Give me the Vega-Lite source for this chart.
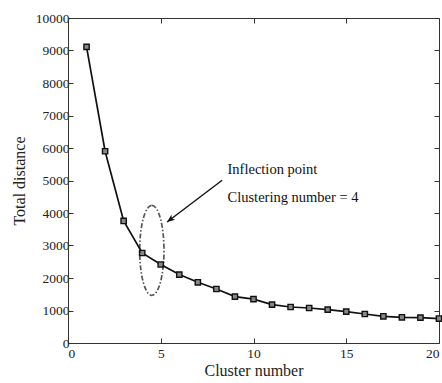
{
  "$schema": "https://vega.github.io/schema/vega-lite/v6.json",
  "width": 371,
  "height": 325,
  "autosize": "none",
  "padding": {"left": 68, "top": 18, "right": 3, "bottom": 40},
  "background": "white",
  "config": {
    "view": {"stroke": null},
    "font": "Liberation Serif",
    "axis": {
      "grid": false,
      "domainColor": "#333",
      "tickColor": "#333",
      "labelColor": "#222",
      "titleColor": "#222",
      "labelFont": "Liberation Serif",
      "titleFont": "Liberation Serif",
      "labelFontSize": 13.5,
      "titleFontSize": 16,
      "titleFontWeight": "normal",
      "tickSize": -5,
      "domainWidth": 1,
      "tickWidth": 1,
      "format": "d"
    }
  },
  "datasets": {
    "curve": [
      {"k": 1, "d": 9110}, {"k": 2, "d": 5900}, {"k": 3, "d": 3755}, {"k": 4, "d": 2770},
      {"k": 5, "d": 2415}, {"k": 6, "d": 2105}, {"k": 7, "d": 1868}, {"k": 8, "d": 1662},
      {"k": 9, "d": 1428}, {"k": 10, "d": 1350}, {"k": 11, "d": 1181}, {"k": 12, "d": 1108},
      {"k": 13, "d": 1077}, {"k": 14, "d": 1028}, {"k": 15, "d": 966}, {"k": 16, "d": 892},
      {"k": 17, "d": 822}, {"k": 18, "d": 791}, {"k": 19, "d": 781}, {"k": 20, "d": 752}
    ],
    "ellipse": [{"k": 4.52, "d": 2850}],
    "arrow": [{"k": 8.31, "d": 5006, "k2": 5.34, "d2": 3723}],
    "labels": [
      {"k": 8.6, "d": 5314, "t": "Inflection point"},
      {"k": 8.6, "d": 4452, "t": "Clustering number = 4"}
    ]
  },
  "resolve": {"axis": {"x": "independent", "y": "independent"}},
  "layer": [
    {
      "data": {"name": "curve"},
      "mark": {"type": "line", "color": "#111", "strokeWidth": 1.7},
      "encoding": {
        "x": {"field": "k", "type": "quantitative",
              "scale": {"domain": [0, 20], "nice": false},
              "axis": {"values": [0, 5, 10, 15, 20], "format": "d", "title": "Cluster number", "labelPadding": 8, "titlePadding": 3}},
        "y": {"field": "d", "type": "quantitative",
              "scale": {"domain": [0, 10000], "nice": false},
              "axis": {"values": [0, 1000, 2000, 3000, 4000, 5000, 6000, 7000, 8000, 9000, 10000], "format": "d", "title": "Total distance", "labelPadding": 4, "titlePadding": 8}}
      }
    },
    {
      "data": {"name": "curve"},
      "mark": {"type": "point", "shape": "square", "filled": true, "fill": "#888", "stroke": "#111", "strokeWidth": 1.4, "size": 28, "opacity": 1},
      "encoding": {
        "x": {"field": "k", "type": "quantitative", "axis": {"orient": "top", "values": [0, 5, 10, 15, 20], "labels": false, "title": null}},
        "y": {"field": "d", "type": "quantitative", "axis": {"orient": "right", "values": [0, 1000, 2000, 3000, 4000, 5000, 6000, 7000, 8000, 9000, 10000], "labels": false, "title": null}}
      }
    },
    {
      "data": {"name": "ellipse"},
      "mark": {"type": "point", "shape": "M0,-1 A0.27,1 0 1 1 0,1 A0.27,1 0 1 1 0,-1 Z", "filled": false, "stroke": "#111", "strokeWidth": 1.7, "strokeDash": [5, 2, 1.5, 2], "size": 8100},
      "encoding": {
        "x": {"field": "k", "type": "quantitative", "axis": null},
        "y": {"field": "d", "type": "quantitative", "axis": null}
      }
    },
    {
      "data": {"name": "arrow"},
      "mark": {"type": "rule", "color": "#111", "strokeWidth": 1.4},
      "encoding": {
        "x": {"field": "k", "type": "quantitative", "axis": null},
        "y": {"field": "d", "type": "quantitative", "axis": null},
        "x2": {"field": "k2"},
        "y2": {"field": "d2"}
      }
    },
    {
      "data": {"name": "arrow"},
      "mark": {"type": "point", "shape": "M0,0 L-0.45,1.1 L0,0.85 L0.45,1.1 Z", "filled": true, "color": "#111", "size": 200, "angle": 233, "opacity": 1},
      "encoding": {
        "x": {"field": "k2", "type": "quantitative", "axis": null},
        "y": {"field": "d2", "type": "quantitative", "axis": null}
      }
    },
    {
      "data": {"name": "labels"},
      "mark": {"type": "text", "align": "left", "baseline": "middle", "font": "Liberation Serif", "fontSize": 14.5, "color": "#111"},
      "encoding": {
        "x": {"field": "k", "type": "quantitative", "axis": null},
        "y": {"field": "d", "type": "quantitative", "axis": null},
        "text": {"field": "t"}
      }
    }
  ]
}
